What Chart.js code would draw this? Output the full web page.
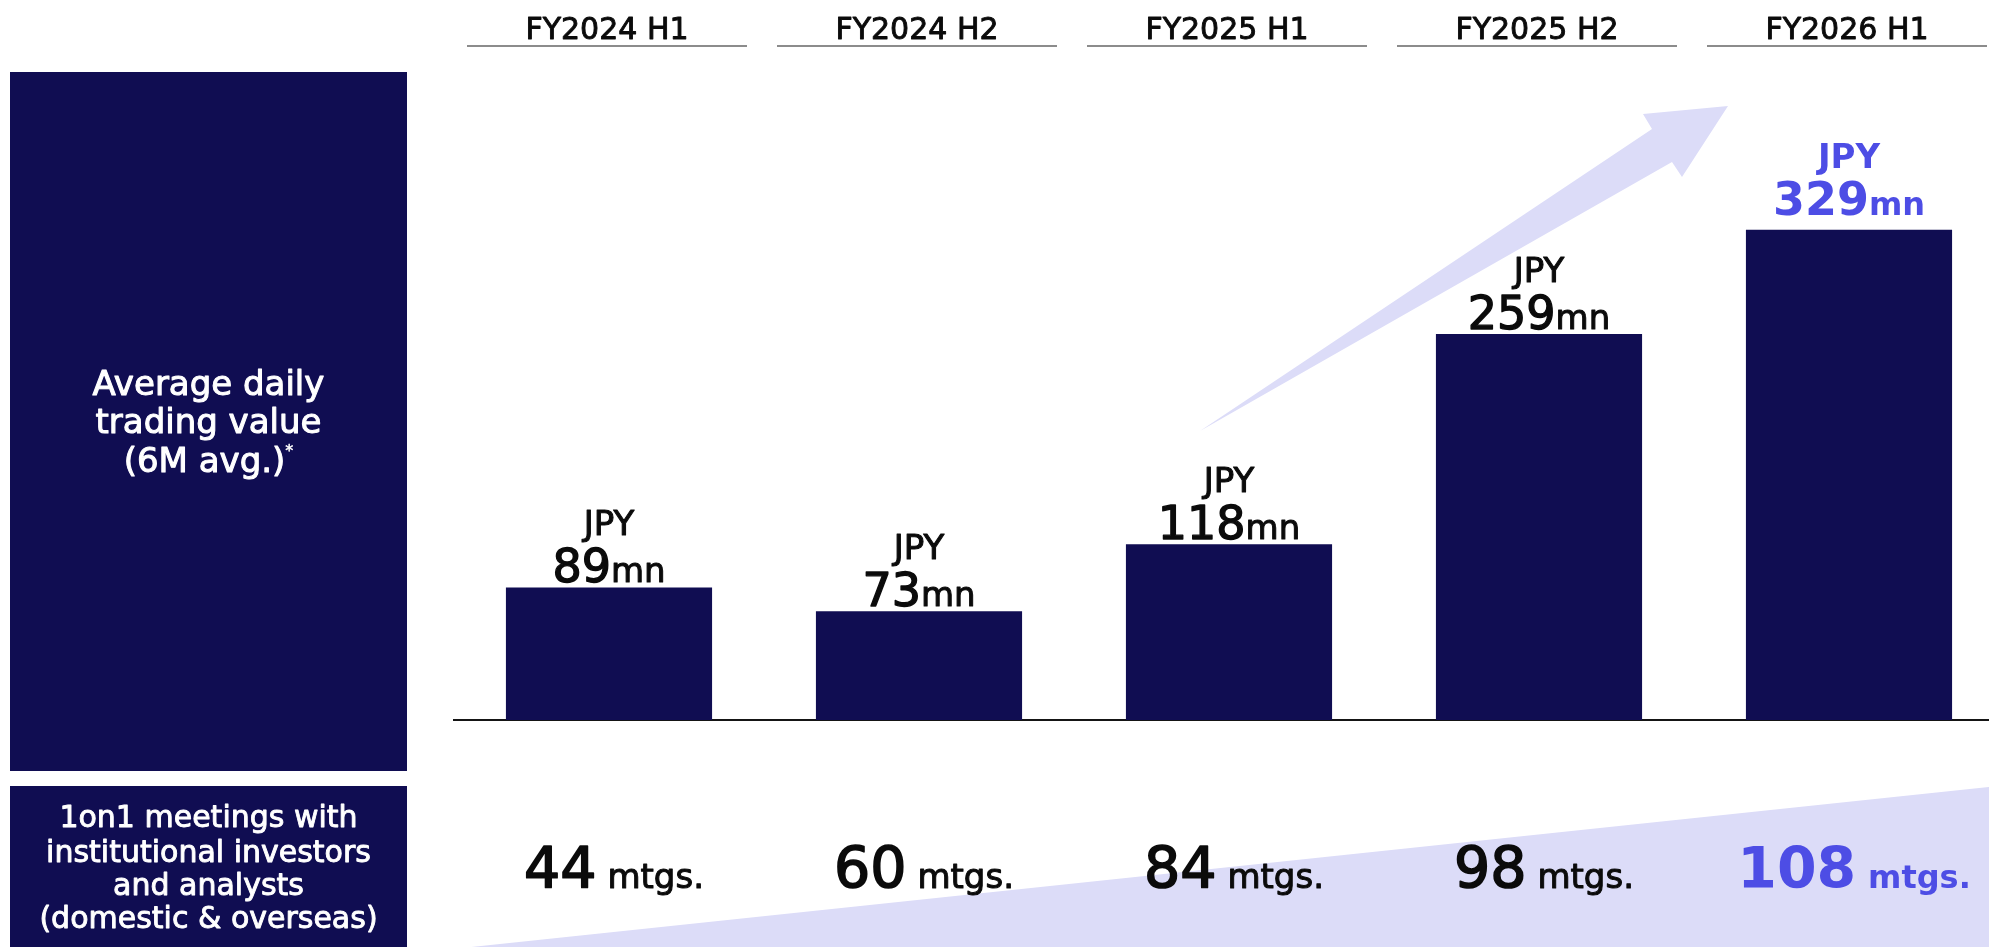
<!DOCTYPE html>
<html>
<head>
<meta charset="utf-8">
<script src="https://cdn.jsdelivr.net/npm/chart.js@4.4.1/dist/chart.umd.min.js"></script>
<style>
  html, body { margin: 0; padding: 0; background: #ffffff; width: 1989px; height: 947px; overflow: hidden; }
  canvas { display: block; }
</style>
</head>
<body>
<canvas id="ir-chart" width="2010" height="947"></canvas>
<script>
// Half-year periods shown as columns
const periods = ['FY2024 H1', 'FY2024 H2', 'FY2025 H1', 'FY2025 H2', 'FY2026 H1'];
// Average daily trading value, 6-month average (JPY mn)
const tradingValueMn = [89, 73, 118, 259, 329];
// 1on1 meetings with institutional investors and analysts
const meetingCounts = [44, 60, 84, 98, 108];
// Row captions
const tradingCaption = ['Average daily', 'trading value', '(6M avg.)'];
const meetingCaption = ['1on1 meetings with', 'institutional investors', 'and analysts', '(domestic & overseas)'];
// Latest period is emphasised
const highlightIndex = 4;

const NAVY = '#100D52';
const LAVENDER = '#DCDCF8';
const ACCENT = '#4D4DE5';
const INK = '#0b0b0b';
const FONT = '"DejaVu Sans", "Liberation Sans", sans-serif';

function setFont(ctx, size, weight) {
  ctx.font = `${weight || 400} ${size}px ${FONT}`;
}

// Draw a sequence of text runs (mixed sizes) centred on cx, sharing one baseline.
// Regular-weight runs get a thin outline in their own colour for a medium look.
function drawRuns(ctx, runs, cx, baseline, color) {
  let total = 0;
  runs.forEach(r => {
    setFont(ctx, r.size, r.weight);
    r.w = ctx.measureText(r.text).width;
    total += r.w;
  });
  let x = cx - total / 2;
  ctx.fillStyle = color;
  ctx.strokeStyle = color;
  ctx.lineJoin = 'round';
  ctx.textAlign = 'left';
  ctx.textBaseline = 'alphabetic';
  runs.forEach(r => {
    setFont(ctx, r.size, r.weight);
    const y = baseline + (r.dy || 0);
    ctx.fillText(r.text, x, y);
    if (!r.weight || r.weight < 600) {
      ctx.lineWidth = r.size * 0.03;
      ctx.strokeText(r.text, x, y);
    }
    x += r.w;
  });
}

const panelPlugin = {
  id: 'irPanel',
  beforeDatasetsDraw(chart) {
    const ctx = chart.ctx;
    const xs = chart.scales.x;
    ctx.save();

    // Row caption panels
    ctx.fillStyle = NAVY;
    ctx.fillRect(10, 72, 397, 699);
    ctx.fillRect(10, 786, 397, 170);

    // Rising band behind the meetings row
    ctx.fillStyle = LAVENDER;
    ctx.beginPath();
    ctx.moveTo(462, 948);
    ctx.lineTo(2010, 948 - 0.1055 * (2010 - 462));
    ctx.lineTo(2010, 948);
    ctx.closePath();
    ctx.fill();

    // Growth arrow over the trading value bars
    ctx.beginPath();
    ctx.moveTo(1200, 431);
    ctx.lineTo(1652, 129);
    ctx.lineTo(1643, 114);
    ctx.lineTo(1728, 106);
    ctx.lineTo(1682, 177);
    ctx.lineTo(1672, 162);
    ctx.closePath();
    ctx.fill();

    // Column headers with underline
    periods.forEach((p, i) => {
      const x = xs.getPixelForValue(i);
      ctx.strokeStyle = '#8c8c8c';
      ctx.lineWidth = 2;
      ctx.beginPath();
      ctx.moveTo(x - 142, 46);
      ctx.lineTo(x + 138, 46);
      ctx.stroke();
      drawRuns(ctx, [{ text: p, size: 30 }], x - 2, 39, INK);
    });

    // Caption texts
    const cx = 208.5;
    drawRuns(ctx, [{ text: tradingCaption[0], size: 34 }], cx, 395, '#ffffff');
    drawRuns(ctx, [{ text: tradingCaption[1], size: 34 }], cx, 433, '#ffffff');
    drawRuns(ctx, [{ text: tradingCaption[2], size: 34 }, { text: '*', size: 16, dy: -16 }], cx, 472, '#ffffff');
    const baselines = [827, 862, 895, 928];
    meetingCaption.forEach((t, i) => drawRuns(ctx, [{ text: t, size: 30 }], cx, baselines[i], '#ffffff'));

    ctx.restore();
  },
  afterDatasetsDraw(chart) {
    const ctx = chart.ctx;
    const xs = chart.scales.x;
    const ys = chart.scales.y;
    ctx.save();

    // Value labels above each bar
    tradingValueMn.forEach((v, i) => {
      const x = xs.getPixelForValue(i);
      const top = ys.getPixelForValue(v);
      const hi = i === highlightIndex;
      const color = hi ? ACCENT : INK;
      const weight = hi ? 700 : 400;
      const numBase = top - (hi ? 15 : 5);
      drawRuns(ctx, [{ text: 'JPY', size: 34, weight }], x, numBase - 47, color);
      drawRuns(ctx, [{ text: String(v), size: 46, weight }, { text: 'mn', size: hi ? 32 : 34, weight }], x, numBase, color);
    });

    // Meetings row
    meetingCounts.forEach((m, i) => {
      const x = xs.getPixelForValue(i);
      const hi = i === highlightIndex;
      const color = hi ? ACCENT : INK;
      const weight = hi ? 700 : 400;
      drawRuns(ctx, [
        { text: String(m), size: 57, weight },
        { text: ' ', size: 34, weight },
        { text: 'mtgs.', size: hi ? 32 : 34, weight }
      ], x + 5, 888, color);
    });

    ctx.restore();
  }
};

new Chart(document.getElementById('ir-chart'), {
  type: 'bar',
  data: {
    labels: periods,
    datasets: [{
      data: tradingValueMn,
      backgroundColor: NAVY,
      borderWidth: 0,
      barPercentage: 0.665,
      categoryPercentage: 1
    }]
  },
  options: {
    responsive: false,
    animation: false,
    devicePixelRatio: 1,
    layout: { padding: { left: 454, right: 6, top: 124, bottom: 227 } },
    plugins: { legend: { display: false }, tooltip: { enabled: false } },
    scales: {
      x: {
        grid: { display: false, drawTicks: false, tickLength: 0 },
        ticks: { display: false },
        border: { display: true, color: '#151515', width: 2 }
      },
      y: { display: false, min: 0, max: 400 }
    }
  },
  plugins: [panelPlugin]
});
</script>
</body>
</html>
